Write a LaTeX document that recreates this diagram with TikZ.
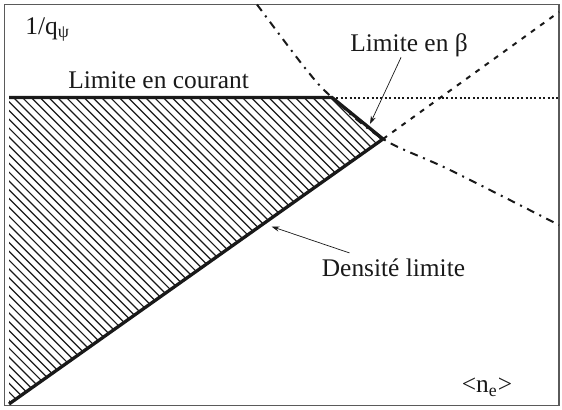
\documentclass[tikz,border=0pt]{standalone}
\usepackage{fontspec}
\setmainfont{Liberation Serif}
\usetikzlibrary{arrows.meta, calc}
\definecolor{diagInk}{RGB}{25, 25, 25}
\definecolor{diagGray}{RGB}{90, 90, 90}

\begin{document}
\begin{tikzpicture}[
      x=0.5pt, y=-0.5pt,
      every node/.style = {
        inner sep=0pt, text=diagInk,
        font=\rmfamily\fontsize{12.7}{15}\selectfont
      },
      frame/.style    = {draw=diagGray, line width=0.6pt},
      limit/.style    = {draw=diagInk, line width=1.65pt, line join=miter},
      hatch/.style    = {draw=diagInk, line width=0.6pt},
      dotline/.style  = {draw=diagInk, line width=1pt,
                         dash pattern=on 1pt off 1.2pt},
      betaline/.style = {draw=diagInk, line width=1pt,
                         dash pattern=on 2.5pt off 3.2pt},
      densline/.style = {draw=diagInk, line width=1pt,
                         dash pattern=on 4pt off 2.9pt on 1pt off 2.9pt},
      pointer/.style  = {-{Stealth[length=4pt, width=2.6pt]},
                         draw=diagInk, line width=0.35pt},
    ]
    \useasboundingbox (0,0) rectangle (562,409);
    %% ── Cadre ──────────────────────────────────────────────────
    \draw[frame] (4.5,4.5) rectangle (559,405.5);
    %% ── Sommets du domaine ─────────────────────────────────────
    \coordinate (bl)   at (9,404);
    \coordinate (tl)   at (9,97.5);
    \coordinate (ip)   at (332,97.5);
    \coordinate (bp)   at (383,139);
    \coordinate (ipR)  at (559,97.5);
    \coordinate (bpR)  at (559,12);
    \coordinate (dTop) at (257,4.5);
    \coordinate (dR)   at (559,225);
    %% ── Hachures ───────────────────────────────────────────────
    \begin{scope}
      \clip (tl) -- (ip) -- (bp) -- (bl) -- cycle;
      \foreach \s in {-400,-391.2,...,390}
        \draw[hatch] (\s,97.5) -- ++(400,400);
    \end{scope}
    \draw[limit] (tl) -- (ip) -- (bp) -- (bl);
    %% ── Courbes limites ────────────────────────────────────────
    \draw[dotline]  (ip) -- (ipR);
    \draw[betaline] (bp) -- (bpR);
    \draw[densline] plot[smooth, tension=0.55]
      coordinates {(dTop) (305,68) (ip) (bp) (450,170) (dR)};
    %% ── Textes ─────────────────────────────────────────────────
    \node (lq)    [anchor=base west] at (25,34)    {1/q\textsubscript{ψ}};
    \node (lcur)  [anchor=base west] at (68,88)    {Limite en courant};
    \node (lbeta) [anchor=base west] at (350,51.5) {Limite en β};
    \node (ldens) [anchor=base west] at (321.5,276) {Densité limite};
    \node (lne)   [anchor=base west] at (461.5,392.5) {<n\textsubscript{e}>};
    %% ── Flèches ────────────────────────────────────────────────
    \coordinate (tbeta) at (370,124);
    \coordinate (tdens) at (271.5,226.5);
    \draw[pointer] ([xshift=-4pt]lbeta.south) -- (tbeta);
    \draw[pointer] ([xshift=14pt, yshift=2.5pt]ldens.north west) -- (tdens);
\end{tikzpicture}
\end{document}
